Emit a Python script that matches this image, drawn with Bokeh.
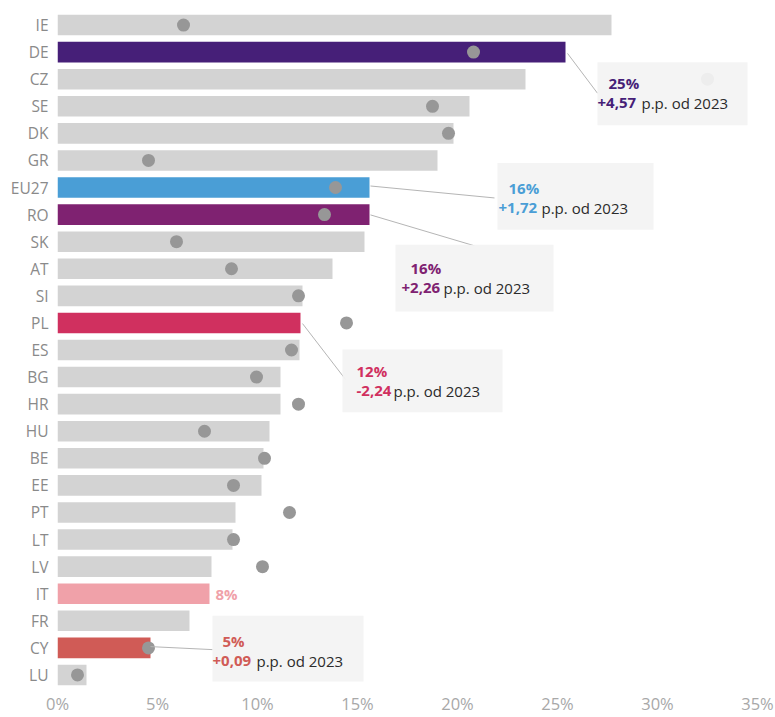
from bokeh.plotting import figure
from bokeh.models import ColumnDataSource, FixedTicker
from bokeh.embed import file_html
from bokeh.resources import INLINE
from bokeh.core.properties import value

countries = ["IE", "DE", "CZ", "SE", "DK", "GR", "EU27", "RO", "SK", "AT", "SI", "PL", "ES",
             "BG", "HR", "HU", "BE", "EE", "PT", "LT", "LV", "IT", "FR", "CY", "LU"]
share_2024 = [27.7, 25.4, 23.4, 20.6, 19.8, 19.0, 15.6, 15.6, 15.35, 13.75, 12.25, 12.15, 12.1,
              11.15, 11.15, 10.6, 10.3, 10.2, 8.9, 8.75, 7.7, 7.6, 6.6, 4.65, 1.45]
share_2023 = [6.3, 20.8, 32.5, 18.75, 19.55, 4.55, 13.9, 13.35, 5.95, 8.7, 12.05, 14.45, 11.7,
              9.95, 12.05, 7.35, 10.35, 8.8, 11.6, 8.8, 10.25, None, None, 4.55, 1.0]
highlight = {"DE": "#461f78", "EU27": "#4a9ed6", "RO": "#7f2271", "PL": "#d0305f",
             "IT": "#f0a1a9", "CY": "#d05b56"}
tick_values = [0, 5, 10, 15, 20, 25, 30, 35]
tick_labels = ["0%", "5%", "10%", "15%", "20%", "25%", "30%", "35%"]

# annotations: country, percent label, change label
notes = [("DE", "25%", "+4,57"), ("EU27", "16%", "+1,72"), ("RO", "16%", "+2,26"),
         ("PL", "12%", "-2,24"), ("CY", "5%", "+0,09")]
it_label = "8%"
suffix = "p.p. od 2023"

FONT = "Open Sans"
n = len(countries)
ypos = [n - 1 - i for i in range(n)]
colors = [highlight.get(c, "#d3d3d3") for c in countries]
dots = [float("nan") if v is None else v for v in share_2023]

src = ColumnDataSource(dict(y=ypos, v=share_2024, c=colors, d=dots, name=countries))

W, H = 775, 717
LEFT, TOP, BOTTOM = 57, 11, 27
XMAX = 35.9
p = figure(width=W, height=H, output_backend="svg", toolbar_location=None,
           x_range=(0, XMAX), y_range=(-0.5, n - 0.5),
           min_border_left=LEFT, min_border_right=0, min_border_top=TOP,
           min_border_bottom=BOTTOM)
p.outline_line_color = None
p.xgrid.visible = False
p.ygrid.visible = False
p.background_fill_color = "white"
p.border_fill_color = "white"

frame_w = W - LEFT
frame_h = H - TOP - BOTTOM


def px2x(px):
    return (px - LEFT) / frame_w * XMAX


def py2y(py):
    return (n - 0.5) - (py - TOP) / frame_h * n


p.hbar(y="y", right="v", left=0, height=0.76, fill_color="c", line_color=None, source=src)
p.scatter(x="d", y="y", size=13, fill_color="#979797", line_color=None, source=src)

# annotation boxes, leaders and texts (pixel layout)
boxes = {"DE": (597, 747, 62, 125), "EU27": (497, 653, 163, 230), "RO": (395, 553, 245, 312),
         "PL": (342, 502, 350, 413), "CY": (212, 363, 617, 683)}
leaders = {"DE": (567, 53, 597, 93), "EU27": (370, 186, 494, 198), "RO": (370, 215, 474, 246),
           "PL": (302, 324, 345, 380), "CY": (150, 648, 212, 651)}
text_pos = {"DE": (608, 83, 597, 103, 641), "EU27": (508, 188, 498, 208, 541),
            "RO": (410, 268, 401, 288, 443), "PL": (356, 372, 356, 392, 393),
            "CY": (222, 642, 212, 662, 256)}

for c, pct, chg in notes:
    x0, x1, y0, y1 = boxes[c]
    lx0, ly0, lx1, ly1 = leaders[c]
    p.segment(x0=[px2x(lx0)], y0=[py2y(ly0)], x1=[px2x(lx1)], y1=[py2y(ly1)],
              line_color="#b5b5b5", line_width=1)
    p.quad(left=[px2x(x0)], right=[px2x(x1)], top=[py2y(y0)], bottom=[py2y(y1)],
           fill_color="#f3f3f3", fill_alpha=0.93, line_color=None)
    col = highlight[c]
    px1, py1, px2, py2, px3 = text_pos[c]
    p.text(x=[px2x(px1)], y=[py2y(py1)], text=[pct], text_color=col,
           text_font=value(FONT), text_font_style="bold", text_font_size="15px",
           text_baseline="middle", text_align="left")
    p.text(x=[px2x(px2)], y=[py2y(py2)], text=[chg], text_color=col,
           text_font=value(FONT), text_font_style="bold", text_font_size="15px",
           text_baseline="middle", text_align="left")
    p.text(x=[px2x(px3)], y=[py2y(py2)], text=[suffix], text_color="#2b2b2b",
           text_font=value(FONT), text_font_size="15px",
           text_baseline="middle", text_align="left")

it_i = countries.index("IT")
p.text(x=[share_2024[it_i] + 0.3], y=[ypos[it_i]], text=[it_label], text_color=highlight["IT"],
       text_font=value(FONT), text_font_style="bold", text_font_size="15px",
       text_baseline="middle", text_align="left")

# axes
p.xaxis.ticker = FixedTicker(ticks=tick_values)
p.xaxis.major_label_overrides = {t: l for t, l in zip(tick_values, tick_labels)}
p.xaxis.axis_line_color = None
p.xaxis.major_tick_line_color = None
p.xaxis.minor_tick_line_color = None
p.xaxis.major_tick_out = 0
p.xaxis.major_tick_in = 0
p.xaxis.major_label_standoff = 3
p.xaxis.major_label_text_line_height = 1.0
p.xaxis.major_label_text_font = FONT
p.xaxis.major_label_text_font_size = "16.5px"
p.xaxis.major_label_text_color = "#a8a8a8"

p.yaxis.ticker = FixedTicker(ticks=ypos)
p.yaxis.major_label_overrides = {y: c for y, c in zip(ypos, countries)}
p.yaxis.axis_line_color = None
p.yaxis.major_tick_line_color = None
p.yaxis.minor_tick_line_color = None
p.yaxis.major_tick_out = 0
p.yaxis.major_tick_in = 0
p.yaxis.major_label_standoff = 9
p.yaxis.major_label_text_font = FONT
p.yaxis.major_label_text_font_size = "15.5px"
p.yaxis.major_label_text_color = "#8a8a8a"

open("out.html", "w").write(file_html(p, INLINE))
